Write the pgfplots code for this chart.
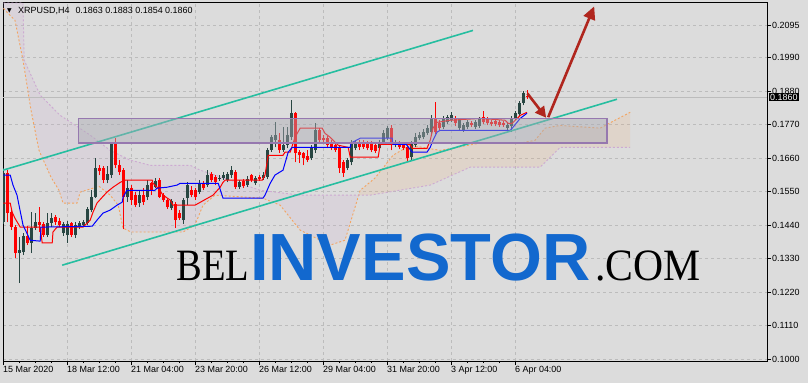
\documentclass[border=0pt]{standalone}
\usepackage{fontspec}
\setmainfont{Liberation Sans}
\newfontfamily\seriffont{Liberation Serif}
\newfontfamily\dejavu{DejaVu Sans}
\usepackage{graphicx}
\usepackage{pgfplots}
\pgfplotsset{compat=1.18}
\usepackage{pgfplotstable}
\usetikzlibrary{arrows.meta}
\definecolor{bgc}{RGB}{220,220,220}
\definecolor{gridc}{RGB}{188,188,188}
\definecolor{bullc}{RGB}{40,70,66}
\definecolor{bearc}{RGB}{255,0,0}
\definecolor{kijun}{RGB}{0,0,255}
\definecolor{sandy}{RGB}{244,164,96}
\definecolor{thist}{RGB}{205,170,210}
\definecolor{chan}{RGB}{38,190,160}
\definecolor{boxfill}{RGB}{170,170,180}
\definecolor{boxedge}{RGB}{150,120,175}
\definecolor{arrowc}{RGB}{176,38,30}
\definecolor{wmblue}{RGB}{18,104,206}

\pgfplotstableread{
i o h l c
0 0.1449 0.1626 0.1443 0.1610
1 0.1610 0.1620 0.1449 0.1479
2 0.1482 0.1492 0.1423 0.1433
3 0.1433 0.1440 0.1331 0.1348
4 0.1348 0.1400 0.1249 0.1358
5 0.1351 0.1413 0.1341 0.1404
6 0.1404 0.1436 0.1374 0.1381
7 0.1381 0.1482 0.1348 0.1430
8 0.1430 0.1479 0.1423 0.1449
9 0.1449 0.1499 0.1417 0.1440
10 0.1443 0.1449 0.1400 0.1407
11 0.1407 0.1479 0.1400 0.1446
12 0.1446 0.1479 0.1433 0.1462
13 0.1466 0.1472 0.1440 0.1449
14 0.1453 0.1462 0.1433 0.1440
15 0.1413 0.1449 0.1404 0.1443
16 0.1407 0.1453 0.1381 0.1443
17 0.1446 0.1449 0.1400 0.1407
18 0.1407 0.1449 0.1397 0.1440
19 0.1433 0.1453 0.1426 0.1446
20 0.1440 0.1456 0.1433 0.1449
21 0.1446 0.1499 0.1440 0.1492
22 0.1489 0.1554 0.1482 0.1531
23 0.1531 0.1659 0.1528 0.1626
24 0.1626 0.1636 0.1604 0.1617
25 0.1626 0.1633 0.1577 0.1587
26 0.1587 0.1633 0.1577 0.1607
27 0.1604 0.1712 0.1594 0.1705
28 0.1705 0.1725 0.1626 0.1636
29 0.1636 0.1653 0.1604 0.1613
30 0.1620 0.1626 0.1426 0.1531
31 0.1531 0.1587 0.1515 0.1561
32 0.1561 0.1571 0.1505 0.1522
33 0.1538 0.1548 0.1499 0.1505
34 0.1512 0.1554 0.1499 0.1538
35 0.1538 0.1561 0.1505 0.1515
36 0.1531 0.1587 0.1522 0.1571
37 0.1577 0.1580 0.1538 0.1554
38 0.1564 0.1594 0.1561 0.1584
39 0.1587 0.1594 0.1528 0.1531
40 0.1538 0.1544 0.1515 0.1522
41 0.1522 0.1528 0.1492 0.1499
42 0.1495 0.1525 0.1489 0.1518
43 0.1508 0.1515 0.1430 0.1456
44 0.1479 0.1489 0.1456 0.1462
45 0.1456 0.1528 0.1443 0.1522
46 0.1528 0.1580 0.1505 0.1571
47 0.1554 0.1567 0.1531 0.1538
48 0.1554 0.1561 0.1522 0.1531
49 0.1548 0.1587 0.1541 0.1577
50 0.1574 0.1584 0.1554 0.1561
51 0.1571 0.1620 0.1564 0.1604
52 0.1607 0.1613 0.1580 0.1587
53 0.1597 0.1604 0.1571 0.1580
54 0.1592 0.1604 0.1584 0.1595
55 0.1594 0.1613 0.1587 0.1604
56 0.1587 0.1613 0.1580 0.1607
57 0.1604 0.1633 0.1594 0.1620
58 0.1613 0.1620 0.1558 0.1564
59 0.1564 0.1587 0.1558 0.1580
60 0.1584 0.1590 0.1561 0.1567
61 0.1571 0.1600 0.1564 0.1590
62 0.1604 0.1607 0.1580 0.1587
63 0.1577 0.1600 0.1571 0.1594
64 0.1597 0.1604 0.1584 0.1590
65 0.1594 0.1613 0.1587 0.1604
66 0.1597 0.1692 0.1590 0.1685
67 0.1685 0.1735 0.1679 0.1728
68 0.1718 0.1777 0.1695 0.1735
69 0.1718 0.1741 0.1676 0.1685
70 0.1685 0.1761 0.1679 0.1702
71 0.1702 0.1761 0.1692 0.1735
72 0.1728 0.1850 0.1718 0.1807
73 0.1807 0.1810 0.1646 0.1676
74 0.1679 0.1685 0.1643 0.1669
75 0.1676 0.1679 0.1636 0.1659
76 0.1666 0.1685 0.1646 0.1653
77 0.1659 0.1702 0.1653 0.1692
78 0.1685 0.1774 0.1676 0.1751
79 0.1751 0.1758 0.1709 0.1718
80 0.1725 0.1735 0.1709 0.1718
81 0.1725 0.1731 0.1692 0.1702
82 0.1709 0.1718 0.1685 0.1692
83 0.1702 0.1709 0.1679 0.1685
84 0.1695 0.1702 0.1610 0.1626
85 0.1646 0.1653 0.1597 0.1610
86 0.1626 0.1659 0.1620 0.1653
87 0.1646 0.1718 0.1636 0.1709
88 0.1692 0.1718 0.1685 0.1709
89 0.1709 0.1718 0.1685 0.1695
90 0.1709 0.1718 0.1689 0.1695
91 0.1709 0.1715 0.1685 0.1692
92 0.1709 0.1715 0.1679 0.1685
93 0.1702 0.1709 0.1676 0.1682
94 0.1692 0.1718 0.1685 0.1709
95 0.1709 0.1751 0.1702 0.1741
96 0.1725 0.1764 0.1718 0.1758
97 0.1758 0.1767 0.1685 0.1702
98 0.1702 0.1718 0.1695 0.1712
99 0.1709 0.1715 0.1689 0.1695
100 0.1702 0.1709 0.1685 0.1692
101 0.1695 0.1702 0.1646 0.1659
102 0.1663 0.1715 0.1653 0.1709
103 0.1702 0.1741 0.1695 0.1728
104 0.1725 0.1745 0.1718 0.1735
105 0.1728 0.1754 0.1722 0.1745
106 0.1741 0.1767 0.1735 0.1758
107 0.1745 0.1800 0.1738 0.1790
108 0.1790 0.1843 0.1738 0.1745
109 0.1774 0.1784 0.1751 0.1758
110 0.1761 0.1797 0.1754 0.1790
111 0.1777 0.1800 0.1771 0.1794
112 0.1784 0.1810 0.1777 0.1800
113 0.1790 0.1797 0.1764 0.1774
114 0.1758 0.1790 0.1751 0.1784
115 0.1751 0.1774 0.1745 0.1767
116 0.1761 0.1784 0.1754 0.1777
117 0.1774 0.1781 0.1761 0.1767
118 0.1761 0.1784 0.1754 0.1777
119 0.1764 0.1794 0.1758 0.1787
120 0.1794 0.1813 0.1771 0.1777
121 0.1787 0.1794 0.1767 0.1774
122 0.1777 0.1784 0.1764 0.1771
123 0.1781 0.1787 0.1764 0.1771
124 0.1777 0.1784 0.1761 0.1767
125 0.1774 0.1781 0.1761 0.1767
126 0.1758 0.1777 0.1751 0.1767
127 0.1764 0.1797 0.1745 0.1787
128 0.1790 0.1813 0.1784 0.1807
129 0.1804 0.1846 0.1797 0.1840
130 0.1840 0.1879 0.1833 0.1872
131 0.1863 0.1883 0.1854 0.1860
}\candles

\pgfplotstableread{
i p
0 0.1512
1.7 0.1512
2.2 0.1482
2.9 0.1462
3.9 0.1440
4.2 0.1433
9.2 0.1433
9.7 0.1381
12.2 0.1381
12.4 0.1417
13.4 0.1433
19.9 0.1433
21.7 0.1456
22.4 0.1482
23.4 0.1512
24.7 0.1531
25.9 0.1548
27.4 0.1564
29.2 0.1580
30.4 0.1587
37.2 0.1587
37.4 0.1577
38.7 0.1561
39.9 0.1538
41.7 0.1522
42.4 0.1505
47.9 0.1505
52.4 0.1538
54.2 0.1564
54.9 0.1580
55.4 0.1587
64.7 0.1587
65.4 0.1604
66.2 0.1669
69.9 0.1669
70.4 0.1679
71.7 0.1679
72.9 0.1728
74.2 0.1758
79.7 0.1758
80.4 0.1741
81.7 0.1728
82.9 0.1712
83.7 0.1702
86.2 0.1695
86.7 0.1663
93.7 0.1663
94.2 0.1705
101.7 0.1705
102.2 0.1692
105.9 0.1692
106.7 0.1718
107.4 0.1758
108.4 0.1777
111.7 0.1784
119.2 0.1790
125.4 0.1784
126.2 0.1774
127.2 0.1774
129.2 0.1800
130.9 0.1810
}\tenkan

\pgfplotstableread{
i p
0 0.1604
1.7 0.1604
2.4 0.1571
3.4 0.1538
4.9 0.1440
6.7 0.1390
9.2 0.1387
9.4 0.1433
22.2 0.1436
23.4 0.1456
24.9 0.1479
26.7 0.1489
28.4 0.1505
29.7 0.1515
29.9 0.1531
30.9 0.1554
37.9 0.1554
38.4 0.1561
40.9 0.1564
43.4 0.1571
44.2 0.1577
53.7 0.1577
54.9 0.1528
64.9 0.1528
65.4 0.1538
66.7 0.1577
67.9 0.1604
69.9 0.1620
71.2 0.1679
72.2 0.1695
86.7 0.1695
86.9 0.1709
89.2 0.1725
97.2 0.1725
97.4 0.1705
100.7 0.1705
102.2 0.1679
105.9 0.1679
106.7 0.1695
107.4 0.1718
108.4 0.1745
109.2 0.1751
126.7 0.1751
127.4 0.1761
129.2 0.1790
130.9 0.1807
}\kijun

\pgfplotstableread{
i p
0 0.2151
2.9 0.2112
4.9 0.1981
6.9 0.1817
8.9 0.1685
11.9 0.1597
13.9 0.1554
14.9 0.1512
18.4 0.1512
19.2 0.1548
23.9 0.1567
26.7 0.1538
28.7 0.1505
29.9 0.1430
31.9 0.1417
44.9 0.1417
47.9 0.1440
49.9 0.1505
52.9 0.1538
64.9 0.1528
69.2 0.1505
74.2 0.1423
81.7 0.1374
85.4 0.1390
89.2 0.1554
92.9 0.1594
97.4 0.1669
101.7 0.1702
109.2 0.1685
119.2 0.1709
129.2 0.1709
132.9 0.1718
135.4 0.1758
139.2 0.1767
149.2 0.1758
152.9 0.1784
156.7 0.1810
}\spanA

\pgfplotstableread{
i p
0 0.2169
4.9 0.2169
5.2 0.1981
9.2 0.1866
14.2 0.1800
21.7 0.1735
26.7 0.1685
31.7 0.1653
36.7 0.1636
46.7 0.1636
49.2 0.1620
52.9 0.1604
64.2 0.1554
74.2 0.1538
91.7 0.1538
106.7 0.1571
116.7 0.1630
134.2 0.1630
139.2 0.1695
156.7 0.1695
}\spanB

% cloud where span B is above span A
\pgfplotstableread{
i p
0 0.2151
2.9 0.2112
4.9 0.1981
6.9 0.1817
8.9 0.1685
11.9 0.1597
13.9 0.1554
14.9 0.1512
18.4 0.1512
19.2 0.1548
23.9 0.1567
26.7 0.1538
28.7 0.1505
29.9 0.1430
31.9 0.1417
44.9 0.1417
47.9 0.1440
49.9 0.1505
52.9 0.1538
64.9 0.1528
69.2 0.1505
74.2 0.1423
81.7 0.1374
85.4 0.1390
88.8 0.1538
74.2 0.1538
64.2 0.1554
52.9 0.1604
49.2 0.1620
46.7 0.1636
36.7 0.1636
31.7 0.1653
26.7 0.1685
21.7 0.1735
14.2 0.1800
9.2 0.1866
5.2 0.1981
4.9 0.2169
0 0.2169
}\cloudB

% cloud where span A is above span B
\pgfplotstableread{
i p
88.8 0.1538
89.2 0.1554
92.9 0.1594
97.4 0.1669
101.7 0.1702
109.2 0.1685
119.2 0.1709
129.2 0.1709
132.9 0.1718
135.4 0.1758
139.2 0.1767
149.2 0.1758
152.9 0.1784
156.7 0.1810
156.7 0.1695
139.2 0.1695
134.2 0.1630
116.7 0.1630
106.7 0.1571
91.7 0.1538
}\cloudA

\begin{document}
\begin{tikzpicture}
\fill[bgc] (-3bp,-22bp) rectangle (805bp,361bp);
\begin{axis}[
  at={(0,0)}, anchor=south west,
  scale only axis, width=764bp, height=358bp,
  xmin=-0.1, xmax=190.9, ymin=0.09934, ymax=0.2169,
  axis line style={black, line width=1bp},
  xtick pos=bottom, ytick pos=right, yticklabel pos=right,
  tick align=outside, major tick length=4bp, minor tick length=2bp,
  tick style={black, line width=0.6bp},
  xtick={0,16,32,48,64,80,96,112,128},
  minor x tick num=3,
  xticklabels={15 Mar 2020,18 Mar 12:00,21 Mar 04:00,23 Mar 20:00,26 Mar 12:00,29 Mar 04:00,31 Mar 20:00,3 Apr 12:00,6 Apr 04:00},
  xticklabel style={anchor=north west, inner sep=1bp, xshift=-1.5bp},
  ytick={0.1,0.111,0.122,0.133,0.144,0.155,0.166,0.177,0.188,0.199,0.2095},
  yticklabels={0.1000,0.1110,0.1220,0.1330,0.1440,0.1550,0.1660,0.1770,0.1880,0.1990,0.2095},
  yticklabel style={anchor=west, inner sep=1bp},
  tick label style={font=\fontsize{9}{10}\selectfont, text=black},
  grid=major, grid style={color=gridc, dash pattern=on 3bp off 3bp, line width=0.7bp},
]
% Ichimoku cloud
\addplot[fill=thist, fill opacity=0.16, draw=none, forget plot] table[x=i,y=p] {\cloudB} -- cycle;
\addplot[fill=sandy, fill opacity=0.14, draw=none, forget plot] table[x=i,y=p] {\cloudA} -- cycle;
\addplot[draw=sandy, line width=0.9bp, dash pattern=on 2bp off 2bp, forget plot] table[x=i,y=p] {\spanA};
\addplot[draw=thist, line width=0.9bp, dash pattern=on 2bp off 2bp, forget plot] table[x=i,y=p] {\spanB};
% bid line
\addplot[draw=gridc, line width=0.6bp, forget plot] coordinates {(-0.1,0.1860) (190.9,0.1860)};
% wicks
\addplot[draw=none, mark=none, forget plot, restrict expr to domain={\thisrow{c}-\thisrow{o}}{0:1},
  error bars/.cd, y dir=plus, y explicit, error mark=none,
  error bar style={draw=bullc, line width=1bp}]
  table[x=i, y=l, y error expr=\thisrow{h}-\thisrow{l}] {\candles};
\addplot[draw=none, mark=none, forget plot, restrict expr to domain={\thisrow{c}-\thisrow{o}}{-1:0},
  error bars/.cd, y dir=plus, y explicit, error mark=none,
  error bar style={draw=bearc, line width=1bp}]
  table[x=i, y=l, y error expr=\thisrow{h}-\thisrow{l}] {\candles};
% bodies
\addplot[draw=none, mark=none, forget plot, restrict expr to domain={\thisrow{c}-\thisrow{o}}{0:1},
  error bars/.cd, y dir=plus, y explicit, error mark=none,
  error bar style={draw=bullc, line width=3.2bp, line cap=butt}]
  table[x=i, y=o, y error expr=\thisrow{c}-\thisrow{o}] {\candles};
\addplot[draw=none, mark=none, forget plot, restrict expr to domain={\thisrow{c}-\thisrow{o}}{-1:0},
  error bars/.cd, y dir=plus, y explicit, error mark=none,
  error bar style={draw=bearc, line width=3.2bp, line cap=butt}]
  table[x=i, y=c, y error expr=\thisrow{o}-\thisrow{c}] {\candles};
% tenkan / kijun
\addplot[draw=red, line width=1bp, forget plot] table[x=i,y=p] {\tenkan};
\addplot[draw=kijun, line width=1bp, forget plot] table[x=i,y=p] {\kijun};
% channel
\addplot[draw=chan, line width=1.6bp, forget plot] coordinates {(-0.1,0.1620) (117.4,0.2079)};
\addplot[draw=chan, line width=1.6bp, forget plot] coordinates {(14.7,0.1308) (153.4,0.1853)};
% zone box
\addplot[fill=boxfill, fill opacity=0.45, draw=boxedge, line width=1.2bp, draw opacity=1, forget plot]
  coordinates {(18.7,0.1790) (150.9,0.1790) (150.9,0.1709) (18.7,0.1709)} -- cycle;
% arrows
\addplot[draw=arrowc, line width=2.6bp, -{Triangle[length=11bp,width=11bp]}, forget plot]
  coordinates {(131.0,0.1872) (135.7,0.1792)};
\addplot[draw=arrowc, line width=2.6bp, -{Triangle[length=13bp,width=12bp]}, forget plot]
  coordinates {(136.2,0.1794) (147.7,0.2158)};
% watermark
\node[anchor=base west, inner sep=0] at (axis cs:43.2,0.1259)
  {\seriffont\fontsize{45}{45}\selectfont\scalebox{0.86}[1]{BEL}\hspace{1bp}{\rmfamily\bfseries\color{wmblue}\fontsize{67}{67}\selectfont INVESTOR}\hspace{5bp}\scalebox{0.93}[1]{.COM}};
% title
\node[anchor=base west, inner sep=0] at (rel axis cs:0,1) [xshift=4bp, yshift=-10bp] {\dejavu\fontsize{6}{6}\selectfont ▼};
\node[anchor=base west, inner sep=0, font=\fontsize{9}{10}\selectfont] at (rel axis cs:0,1) [xshift=15bp, yshift=-11bp] {XRPUSD,H4\hspace{6bp}0.1863 0.1883 0.1854 0.1860};
\coordinate (pl) at (axis cs:190.9,0.1860);
\end{axis}
\node[fill=black, text=white, inner xsep=1.5bp, inner ysep=1.2bp, anchor=west, font=\fontsize{9}{10}\selectfont] at (pl) [xshift=1.5bp] {0.1860};
\pgfresetboundingbox
\useasboundingbox (-3bp,-22bp) rectangle (805bp,361bp);
\end{tikzpicture}
\end{document}
